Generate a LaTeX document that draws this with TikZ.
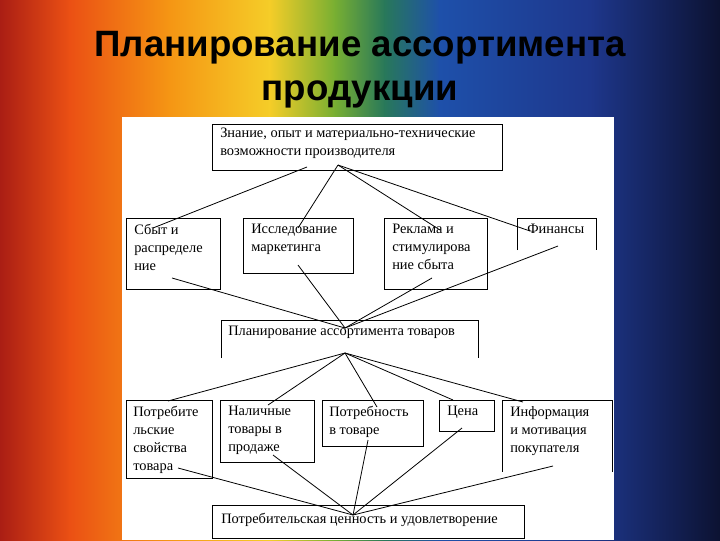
\documentclass[tikz,border=0pt]{standalone}
\usepackage{fontspec}
\setmainfont{Liberation Serif}
\newfontfamily\titlefont{Liberation Sans}
\begin{document}
\begin{tikzpicture}[x=0.75pt,y=-0.75pt,
  bx/.style={draw=black,line width=0.6pt,fill=white},
  tx/.style={anchor=north west,inner sep=0pt,align=left,font=\fontsize{10.8}{13.5}\selectfont},
  ln/.style={line width=0.6pt}]
\useasboundingbox (0,0) rectangle (720,540);
% rainbow background
\shade[left color={rgb,255:red,170;green,30;blue,20},right color={rgb,255:red,235;green,80;blue,20}] (0,0) rectangle (70,540);
\shade[left color={rgb,255:red,235;green,80;blue,20},right color={rgb,255:red,245;green,150;blue,20}] (69.5,0) rectangle (170,540);
\shade[left color={rgb,255:red,245;green,150;blue,20},right color={rgb,255:red,245;green,205;blue,40}] (169.5,0) rectangle (270,540);
\shade[left color={rgb,255:red,245;green,205;blue,40},right color={rgb,255:red,120;green,175;blue,50}] (269.5,0) rectangle (335,540);
\shade[left color={rgb,255:red,120;green,175;blue,50},right color={rgb,255:red,40;green,120;blue,90}] (334.5,0) rectangle (385,540);
\shade[left color={rgb,255:red,40;green,120;blue,90},right color={rgb,255:red,30;green,80;blue,170}] (384.5,0) rectangle (440,540);
\shade[left color={rgb,255:red,30;green,80;blue,170},right color={rgb,255:red,30;green,55;blue,140}] (439.5,0) rectangle (590,540);
\shade[left color={rgb,255:red,30;green,55;blue,140},right color={rgb,255:red,12;green,18;blue,50}] (589.5,0) rectangle (720,540);
% title
\node (title) at (360,70) [align=center,font=\titlefont\bfseries\fontsize{27.5}{33}\selectfont,text=black] {Планирование ассортимента\\продукции};
% panel
\fill[white] (122,117) rectangle (614,540);
% boxes
\draw[bx] (212,124) rectangle (502,170);
\node[tx] (top) at (220,128) {Знание, опыт и материально-технические\\возможности производителя};
\draw[bx] (126,218) rectangle (220,289);
\node[tx] (b1) at (134,224) {Сбыт и\\распределе\\ние};
\draw[bx] (243,218) rectangle (353,273);
\node[tx] (b2) at (251,224) {Исследование\\маркетинга};
\draw[bx] (384,218) rectangle (487,289);
\node[tx] (b3) at (392,224) {Реклама и\\стимулирова\\ние сбыта};
\draw[ln] (517,250) -- (517,218) -- (596,218) -- (596,250);
\node[tx] (b4) at (527,224) {Финансы};
\draw[ln] (221,358) -- (221,320) -- (478,320) -- (478,358);
\node[tx] (mid) at (228,326) {Планирование ассортимента товаров};
\draw[bx] (126,400) rectangle (212,478);
\node[tx] (c1) at (133,406) {Потребите\\льские\\свойства\\товара};
\draw[bx] (220,400) rectangle (314,462);
\node[tx] (c2) at (228,406) {Наличные\\товары в\\продаже};
\draw[bx] (322,400) rectangle (423,446);
\node[tx] (c3) at (329,406) {Потребность\\в товаре};
\draw[bx] (439,400) rectangle (494,431);
\node[tx] (c4) at (447,406) {Цена};
\draw[ln] (612,472) -- (612,400) -- (502,400) -- (502,472);
\node[tx] (c5) at (510,406) {Информация\\и мотивация\\покупателя};
\draw[bx] (212,505) rectangle (524,538);
\node[tx] (bot) at (221,513) {Потребительская ценность и удовлетворение};
% hubs
\coordinate (h1) at (338,165);
\coordinate (h2) at (345,328);
\coordinate (h3) at (345,353);
\coordinate (h4) at (353,515);
\draw[ln] (307,167) -- (153,228);
\draw[ln] (h1) -- (298,228);
\draw[ln] (h1) -- (440,230);
\draw[ln] (h1) -- (530,231);
\draw[ln] (172,278) -- (h2);
\draw[ln] (298,265) -- (h2);
\draw[ln] (432,278) -- (h2);
\draw[ln] (558,246) -- (h2);
\draw[ln] (h3) -- (168,401);
\draw[ln] (h3) -- (268,405);
\draw[ln] (h3) -- (377,407);
\draw[ln] (h3) -- (453,400);
\draw[ln] (h3) -- (523,402);
\draw[ln] (178,468) -- (h4);
\draw[ln] (273,455) -- (h4);
\draw[ln] (368,440) -- (h4);
\draw[ln] (462,428) -- (h4);
\draw[ln] (553,466) -- (h4);
\end{tikzpicture}
\end{document}
